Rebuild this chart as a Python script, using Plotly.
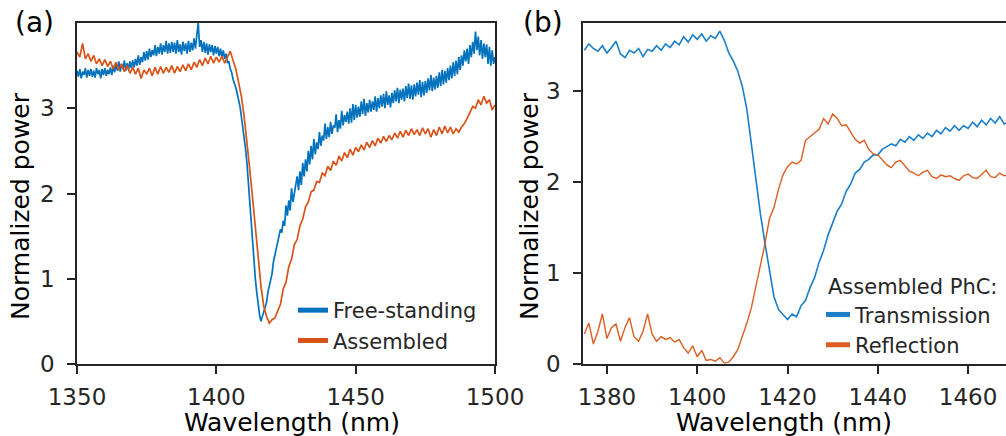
import plotly.graph_objects as go

# ---------------- Panel (a) data ----------------
# Free-standing spectrum, sampled every 0.5 nm from 1350 to 1500 nm
wl_a_fine = [1350 + 0.5 * i for i in range(301)]
free_standing = [
    3.44, 3.37, 3.46, 3.35, 3.43, 3.39, 3.47, 3.36, 3.45, 3.38,
    3.46, 3.37, 3.44, 3.36, 3.47, 3.40, 3.45, 3.35, 3.46, 3.39,
    3.47, 3.38, 3.45, 3.40, 3.48, 3.39, 3.50, 3.42, 3.52, 3.44,
    3.55, 3.43, 3.52, 3.46, 3.56, 3.44, 3.53, 3.45, 3.55, 3.47,
    3.56, 3.48, 3.58, 3.50, 3.62, 3.51, 3.60, 3.54, 3.66, 3.56,
    3.67, 3.57, 3.70, 3.60, 3.68, 3.62, 3.74, 3.61, 3.72, 3.64,
    3.76, 3.63, 3.74, 3.66, 3.79, 3.64, 3.76, 3.65, 3.78, 3.66,
    3.77, 3.64, 3.80, 3.66, 3.75, 3.63, 3.78, 3.67, 3.76, 3.64,
    3.79, 3.66, 3.77, 3.68, 3.82, 3.70, 3.86, 4.00, 3.72, 3.80,
    3.66, 3.78, 3.65, 3.76, 3.63, 3.75, 3.66, 3.74, 3.62, 3.73,
    3.64, 3.72, 3.61, 3.70, 3.60, 3.68, 3.58, 3.64, 3.53, 3.55,
    3.46, 3.42, 3.34, 3.30, 3.24, 3.17, 3.10, 3.02, 2.90, 2.78,
    2.65, 2.52, 2.35, 2.12, 1.85, 1.62, 1.40, 1.18, 1.00, 0.84,
    0.70, 0.58, 0.50, 0.56, 0.60, 0.66, 0.72, 0.84, 0.92, 1.00,
    1.06, 1.20, 1.28, 1.33, 1.42, 1.50, 1.58, 1.54, 1.68, 1.62,
    1.86, 1.74, 1.92, 1.80, 2.06, 1.90, 1.98, 2.10, 2.20, 2.04,
    2.26, 2.10, 2.36, 2.20, 2.40, 2.26, 2.50, 2.34, 2.56, 2.40,
    2.64, 2.46, 2.60, 2.52, 2.72, 2.56, 2.68, 2.62, 2.82, 2.64,
    2.78, 2.66, 2.84, 2.70, 2.80, 2.77, 2.93, 2.72, 2.86, 2.76,
    2.97, 2.80, 2.92, 2.84, 2.96, 2.82, 3.00, 2.83, 3.05, 2.86,
    3.04, 2.89, 3.02, 2.90, 3.08, 2.93, 3.11, 2.91, 3.06, 2.95,
    3.10, 2.96, 3.08, 2.98, 3.14, 2.96, 3.12, 3.00, 3.15, 3.02,
    3.17, 3.00, 3.20, 3.04, 3.15, 3.01, 3.18, 3.06, 3.21, 3.08,
    3.24, 3.06, 3.22, 3.10, 3.23, 3.08, 3.26, 3.12, 3.29, 3.11,
    3.27, 3.10, 3.28, 3.14, 3.30, 3.16, 3.33, 3.13, 3.31, 3.15,
    3.32, 3.18, 3.35, 3.21, 3.39, 3.20, 3.36, 3.22, 3.38, 3.24,
    3.42, 3.26, 3.45, 3.28, 3.44, 3.30, 3.47, 3.33, 3.50, 3.35,
    3.54, 3.38, 3.56, 3.40, 3.60, 3.45, 3.62, 3.50, 3.68, 3.55,
    3.70, 3.52, 3.74, 3.60, 3.78, 3.64, 3.90, 3.68, 3.84, 3.62,
    3.80, 3.58, 3.76, 3.60, 3.75, 3.52, 3.72, 3.50, 3.68, 3.52,
    3.60,
]
# Assembled spectrum, sampled every 1 nm from 1350 to 1500 nm
wl_a = list(range(1350, 1501))
assembled = [
    3.66, 3.60, 3.76, 3.58, 3.64, 3.55, 3.62, 3.52, 3.58, 3.50,
    3.57, 3.49, 3.55, 3.46, 3.54, 3.45, 3.52, 3.43, 3.50, 3.41,
    3.48, 3.40, 3.47, 3.35, 3.45, 3.40, 3.47, 3.38, 3.48, 3.40,
    3.49, 3.41, 3.48, 3.42, 3.50, 3.41, 3.49, 3.43, 3.51, 3.44,
    3.52, 3.45, 3.54, 3.48, 3.57, 3.50, 3.59, 3.52, 3.61, 3.53,
    3.60, 3.54, 3.61, 3.53, 3.60, 3.67, 3.56, 3.46, 3.30, 3.14,
    2.90, 2.62, 2.28, 1.95, 1.58, 1.22, 0.92, 0.68, 0.56, 0.48,
    0.52, 0.54, 0.63, 0.70, 0.88, 0.96, 1.14, 1.23, 1.40, 1.46,
    1.62, 1.70, 1.84, 1.90, 2.02, 2.04, 2.14, 2.13, 2.24, 2.21,
    2.32, 2.27, 2.38, 2.33, 2.44, 2.38, 2.48, 2.42, 2.52, 2.45,
    2.54, 2.49, 2.57, 2.51, 2.60, 2.54, 2.62, 2.56, 2.65, 2.59,
    2.67, 2.61, 2.68, 2.63, 2.71, 2.65, 2.73, 2.66, 2.74, 2.68,
    2.76, 2.69, 2.75, 2.68, 2.77, 2.70, 2.76, 2.66, 2.75, 2.68,
    2.78, 2.70, 2.79, 2.71, 2.78, 2.70, 2.76, 2.72, 2.78, 2.82,
    2.88, 2.95, 3.02, 3.00, 3.10, 3.04, 3.14, 3.06, 3.10, 2.98,
    3.04,
]

# ---------------- Panel (b) data ----------------
wl_b = list(range(1375, 1470))
transmission = [
    3.45, 3.52, 3.47, 3.44, 3.50, 3.42, 3.48, 3.55, 3.41, 3.37,
    3.45, 3.42, 3.47, 3.38, 3.46, 3.44, 3.50, 3.45, 3.52, 3.48,
    3.55, 3.51, 3.60, 3.54, 3.62, 3.57, 3.63, 3.55, 3.61, 3.58,
    3.66, 3.56, 3.42, 3.33, 3.22, 3.05, 2.80, 2.42, 2.02, 1.65,
    1.33, 1.03, 0.74, 0.60, 0.54, 0.49, 0.55, 0.52, 0.64, 0.70,
    0.84, 0.95, 1.12, 1.25, 1.42, 1.55, 1.68, 1.76, 1.90, 1.98,
    2.10, 2.14, 2.22, 2.25, 2.30, 2.30, 2.36, 2.39, 2.42, 2.40,
    2.47, 2.44, 2.50, 2.46, 2.52, 2.48, 2.54, 2.50, 2.57, 2.53,
    2.60, 2.56, 2.62, 2.57, 2.62, 2.59, 2.66, 2.61, 2.68, 2.63,
    2.70, 2.65, 2.72, 2.64, 2.66,
]
reflection = [
    0.33, 0.45, 0.22, 0.36, 0.55, 0.28, 0.40, 0.44, 0.25, 0.40,
    0.51, 0.30, 0.25, 0.36, 0.55, 0.33, 0.25, 0.30, 0.27, 0.29,
    0.24, 0.27, 0.18, 0.12, 0.20, 0.08, 0.15, 0.04, 0.05, 0.03,
    0.07, 0.01, 0.02, 0.08, 0.16, 0.30, 0.45, 0.62, 0.85, 1.08,
    1.32, 1.60, 1.72, 1.92, 2.08, 2.17, 2.22, 2.20, 2.24, 2.46,
    2.50, 2.55, 2.58, 2.70, 2.64, 2.75, 2.70, 2.62, 2.63, 2.55,
    2.47, 2.43, 2.46, 2.36, 2.31, 2.30, 2.24, 2.19, 2.16, 2.22,
    2.24, 2.18, 2.12, 2.10, 2.07, 2.11, 2.13, 2.06, 2.04, 2.08,
    2.06, 2.07, 2.04, 2.02, 2.07, 2.09, 2.05, 2.04, 2.08, 2.13,
    2.06, 2.05, 2.10, 2.07, 2.08,
]

BLUE = "#0072BD"
ORANGE = "#D95319"
BLUE_B = "#1a7ec8"
ORANGE_B = "#dc5d22"
INK = "#262626"
FONT = "DejaVu Sans"
W, H = 1006, 436

fig = go.Figure()
# panel (a)
fig.add_trace(go.Scatter(x=wl_a_fine, y=free_standing, mode="lines", line=dict(color=BLUE, width=1.7),
                         xaxis="x", yaxis="y", showlegend=False))
fig.add_trace(go.Scatter(x=wl_a, y=assembled, mode="lines", line=dict(color=ORANGE, width=1.7),
                         xaxis="x", yaxis="y", showlegend=False))
# legend entries (a)
fig.add_trace(go.Scatter(x=[None], y=[None], mode="lines", line=dict(color=BLUE, width=5),
                         name="Free-standing", xaxis="x", yaxis="y", legend="legend"))
fig.add_trace(go.Scatter(x=[None], y=[None], mode="lines", line=dict(color=ORANGE, width=5),
                         name="Assembled", xaxis="x", yaxis="y", legend="legend"))
# panel (b)
fig.add_trace(go.Scatter(x=wl_b, y=transmission, mode="lines", line=dict(color=BLUE_B, width=1.6),
                         xaxis="x2", yaxis="y2", showlegend=False))
fig.add_trace(go.Scatter(x=wl_b, y=reflection, mode="lines", line=dict(color=ORANGE_B, width=1.4),
                         xaxis="x2", yaxis="y2", showlegend=False))
fig.add_trace(go.Scatter(x=[None], y=[None], mode="lines", line=dict(color=BLUE_B, width=5),
                         name="Transmission", xaxis="x2", yaxis="y2", legend="legend2"))
fig.add_trace(go.Scatter(x=[None], y=[None], mode="lines", line=dict(color=ORANGE_B, width=5),
                         name="Reflection", xaxis="x2", yaxis="y2", legend="legend2"))

axis_common = dict(showgrid=False, zeroline=False, showline=True, linecolor=INK, linewidth=1.5,
                   ticks="outside", ticklen=8, tickwidth=1.5, tickcolor=INK, automargin=False,
                   tickfont=dict(family=FONT, size=23, color=INK))

ytop = 1 - 23 / H
ybot = 1 - 364 / H

fig.update_layout(
    width=W, height=H,
    margin=dict(l=0, r=0, t=0, b=0, autoexpand=False),
    paper_bgcolor="white", plot_bgcolor="white",
    font=dict(family=FONT, color=INK),
    xaxis=dict(domain=[77 / W, 495 / W], range=[1350, 1500], tickvals=[1350, 1400, 1450, 1500],
               mirror=True, anchor="y", ticklabelstandoff=4, **axis_common),
    yaxis=dict(domain=[ybot, ytop], range=[0, 4], tickvals=[0, 1, 2, 3], mirror=True, anchor="x",
               ticklabelstandoff=8, **axis_common),
    xaxis2=dict(domain=[583 / W, 1.0], range=[1374.7, 1468.4], tickvals=[1380, 1400, 1420, 1440, 1460],
                mirror=True, anchor="y2", ticklabelstandoff=4, **axis_common),
    yaxis2=dict(domain=[ybot, ytop], range=[0, 3.75], tickvals=[0, 1, 2, 3], mirror=False, anchor="x2",
                ticklabelstandoff=8, **axis_common),
    legend=dict(x=293 / W, y=1 - 290 / H, xanchor="left", yanchor="top", bgcolor="rgba(0,0,0,0)",
                font=dict(family=FONT, size=21, color=INK), itemwidth=30, tracegroupgap=0),
    legend2=dict(x=1 - 6 / W, y=1 - 267 / H, xanchor="right", yanchor="top", bgcolor="rgba(0,0,0,0)",
                 font=dict(family=FONT, size=21, color=INK), itemwidth=30, indentation=-11,
                 title=dict(text="Assembled PhC:", font=dict(family=FONT, size=21, color=INK))),
    annotations=[
        dict(text="(a)", x=13 / W, y=1 - 22 / H, xref="paper", yref="paper", xanchor="left",
             yanchor="middle", showarrow=False, font=dict(family=FONT, size=28, color="black")),
        dict(text="(b)", x=521 / W, y=1 - 22 / H, xref="paper", yref="paper", xanchor="left",
             yanchor="middle", showarrow=False, font=dict(family=FONT, size=28, color="black")),
        dict(text="Wavelength (nm)", x=292 / W, y=1 - 422 / H, xref="paper", yref="paper",
             xanchor="center", yanchor="middle", showarrow=False, font=dict(family=FONT, size=25, color="black")),
        dict(text="Wavelength (nm)", x=784 / W, y=1 - 422 / H, xref="paper", yref="paper",
             xanchor="center", yanchor="middle", showarrow=False, font=dict(family=FONT, size=25, color="black")),
        dict(text="Normalized power", x=21 / W, y=1 - 206 / H, xref="paper", yref="paper",
             xanchor="center", yanchor="middle", textangle=-90, showarrow=False,
             font=dict(family=FONT, size=25, color="black")),
        dict(text="Normalized power", x=530 / W, y=1 - 206 / H, xref="paper", yref="paper",
             xanchor="center", yanchor="middle", textangle=-90, showarrow=False,
             font=dict(family=FONT, size=25, color="black")),
    ],
)

fig.write_html("out.html", config={"displayModeBar": False},
               post_script="document.body.style.margin='0px';document.body.style.overflow='hidden';")
